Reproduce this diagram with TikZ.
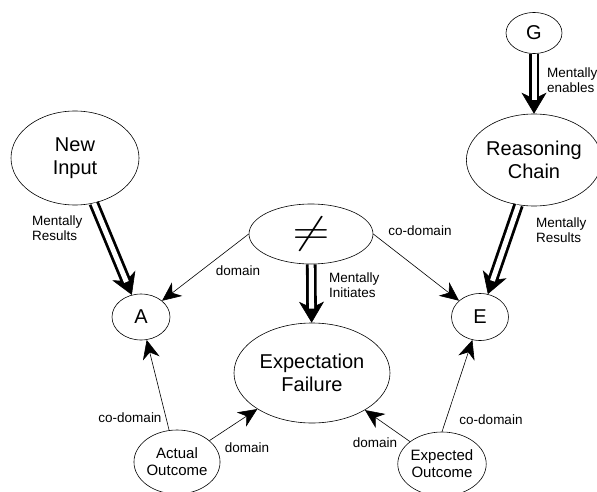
\documentclass[tikz,border=0pt]{standalone}
\usepackage{fontspec}
\setmainfont{Liberation Sans}
\usepackage{graphicx}
\usetikzlibrary{shapes.geometric,arrows.meta}
\begin{document}
\begin{tikzpicture}[x=1pt,y=-1pt,
		ell/.style={draw, ellipse, inner sep=0pt, line width=0.6pt, align=center},
		big/.style={font=\fontsize{20}{23}\selectfont},
		mid/.style={font=\fontsize{15}{17}\selectfont},
		lab/.style={font=\fontsize{13.5}{15}\selectfont, align=left, inner sep=0pt},
		arr/.style={line width=0.6pt, -{Stealth[length=19pt,width=17pt,inset=6pt]}},
		mtip/.style={line width=0.6pt, -{Stealth[length=21pt,width=25pt,inset=6pt]}},
		mline/.style={double, line width=2.8pt, double distance=5pt, shorten >=14pt}]
		\useasboundingbox (0,0) rectangle (597,492);
		
		\node[ell, big, minimum width=56, minimum height=41] (g) at (534,33) {G};
		\node[ell, big, minimum width=126, minimum height=92] (rc) at (534,160) {Reasoning\\Chain};
		\node[ell, big, minimum width=128, minimum height=94] (ni) at (75,158) {New\\Input};
		\node[ell, minimum width=124, minimum height=60] (ne) at (311,234) {\scalebox{4.8}[3.8]{$\neq$}};
		\node[ell, big, minimum width=58, minimum height=46] (a) at (141,317) {A};
		\node[ell, big, minimum width=57, minimum height=47] (e) at (480,317) {E};
		\node[ell, big, minimum width=156, minimum height=100] (ef) at (312,373) {Expectation\\Failure};
		\node[ell, mid, minimum width=80, minimum height=64] (ao) at (177,462) {Actual\\Outcome};
		\node[ell, mid, minimum width=80, minimum height=64] (eo) at (442,464) {Expected\\Outcome};
		
		\draw[mtip] (g) -- (rc);
		\draw[mline] (g) -- (rc);
		\draw[mtip] (rc) -- (e);
		\draw[mline] (rc) -- (e);
		\draw[mtip] (ni) -- (a);
		\draw[mline] (ni) -- (a);
		\draw[mtip] (ne) -- (ef);
		\draw[mline] (ne) -- (ef);
		
		\draw[arr] (ne.west) -- (a);
		\draw[arr] (ne.east) -- (e);
		\draw[arr] (ao) -- (a);
		\draw[arr] (ao) -- (ef);
		\draw[arr] (eo) -- (ef);
		\draw[arr] (eo.north) -- (e);
		
		\node[lab, anchor=west] (lme) at (547,80) {Mentally\\enables};
		\node[lab, anchor=west] (lmr) at (536,230) {Mentally\\Results};
		\node[lab, anchor=west] (lnr) at (32,228) {Mentally\\Results};
		\node[lab, anchor=west] (lmi) at (329,285) {Mentally\\Initiates};
		\node[lab] (ld1) at (238,271) {domain};
		\node[lab] (lc1) at (420,231) {co-domain};
		\node[lab] (lc2) at (130,418) {co-domain};
		\node[lab] (ld2) at (247,448) {domain};
		\node[lab] (ld3) at (375,443) {domain};
		\node[lab] (lc3) at (491,420) {co-domain};
\end{tikzpicture}
\end{document}
